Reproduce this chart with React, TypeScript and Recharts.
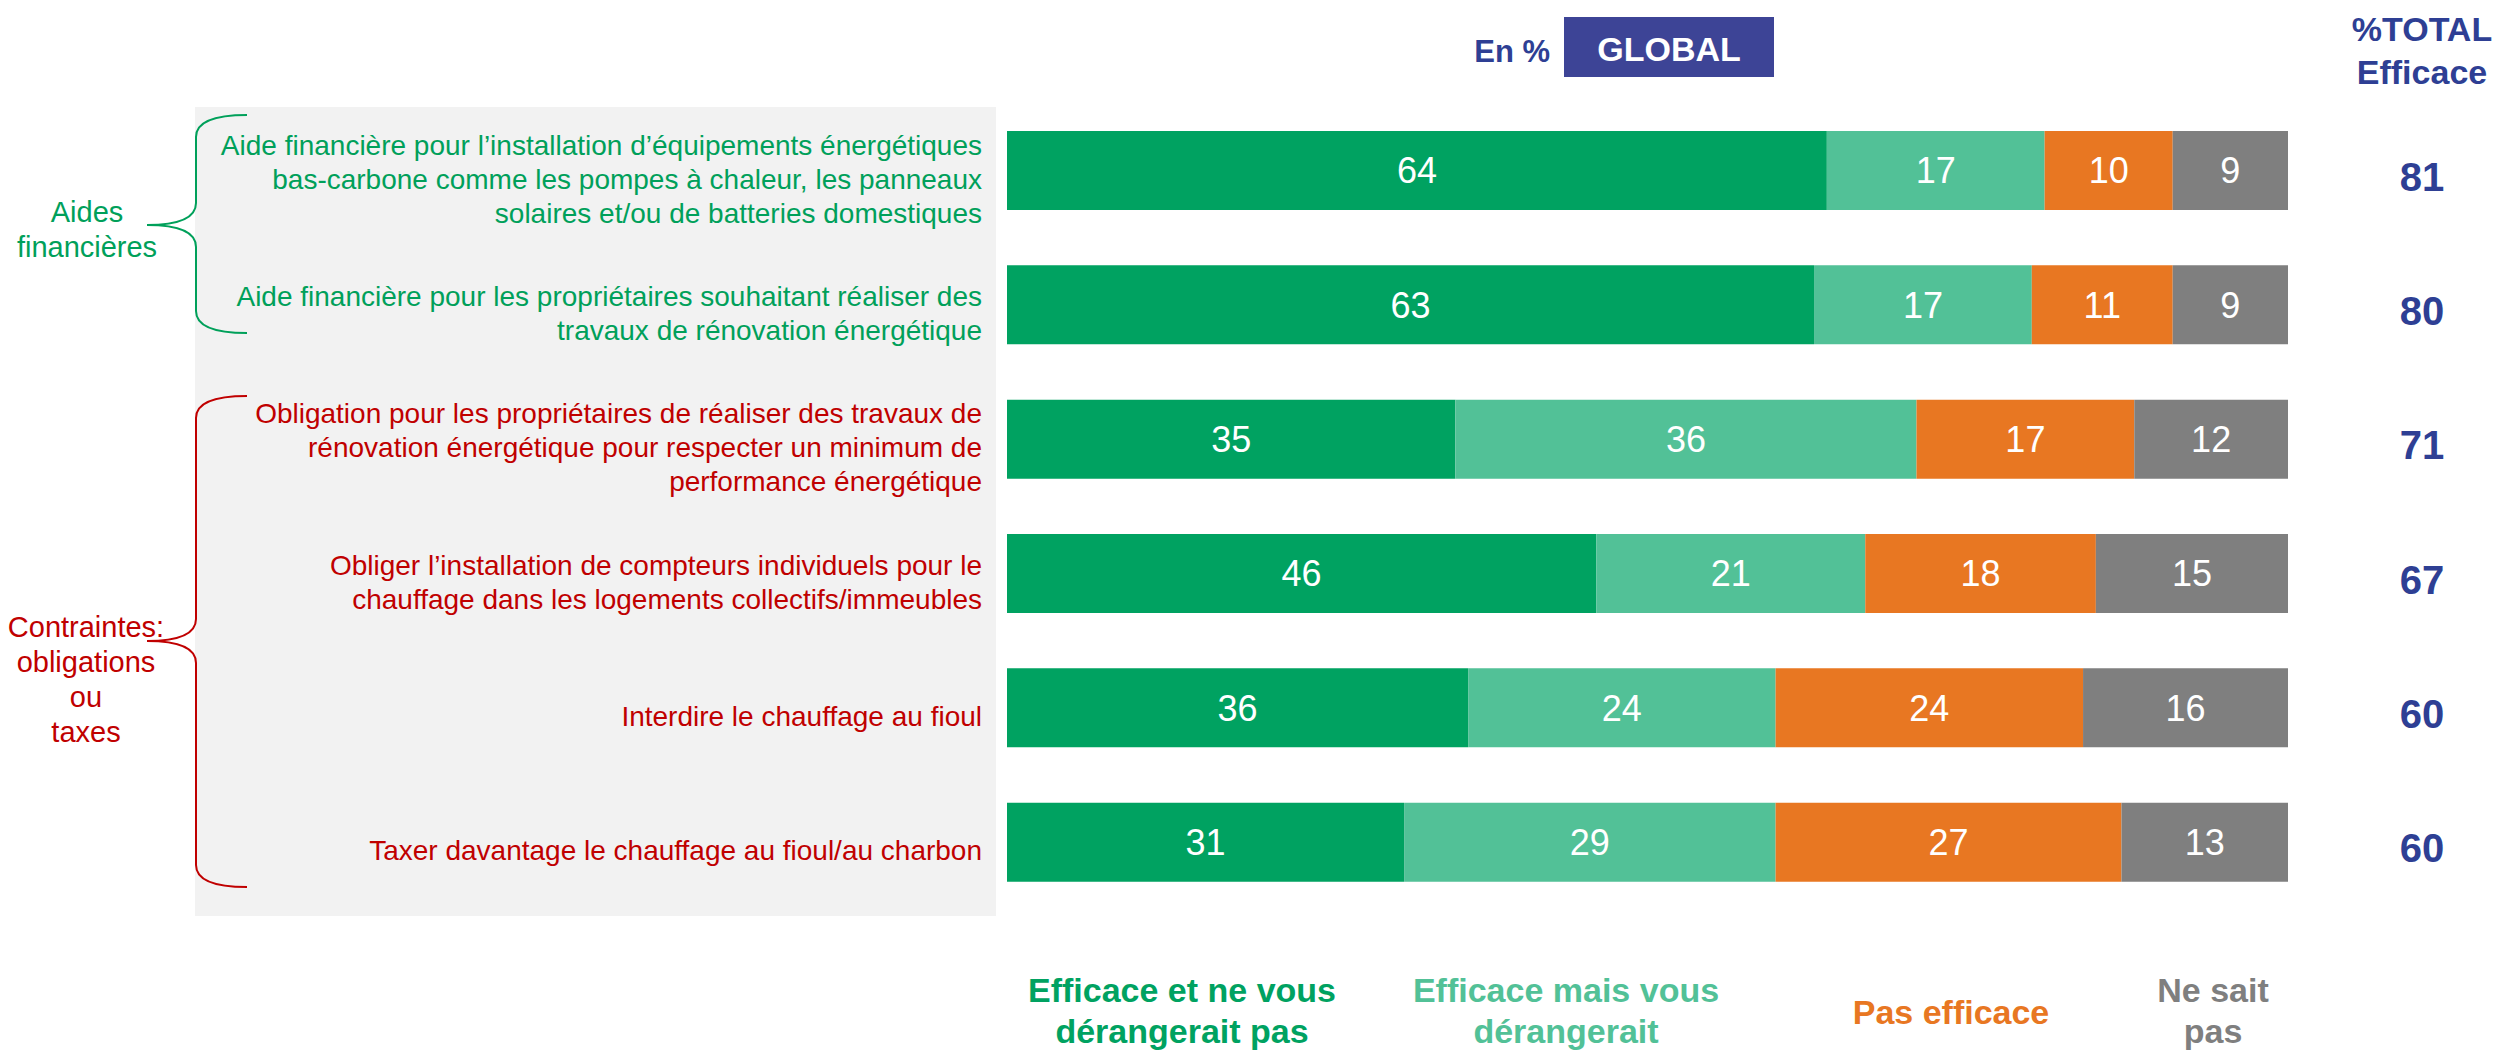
import { BarChart, Bar, XAxis, YAxis, LabelList } from "recharts";

const FONT = "'Liberation Sans', Arial, sans-serif";

const categories = [
  ["Aide financière pour l’installation d’équipements énergétiques", "bas-carbone comme les pompes à chaleur, les panneaux", "solaires et/ou de batteries domestiques"],
  ["Aide financière pour les propriétaires souhaitant réaliser des", "travaux de rénovation énergétique"],
  ["Obligation pour les propriétaires de réaliser des travaux de", "rénovation énergétique pour respecter un minimum de", "performance énergétique"],
  ["Obliger l’installation de compteurs individuels pour le", "chauffage dans les logements collectifs/immeubles"],
  ["Interdire le chauffage au fioul"],
  ["Taxer davantage le chauffage au fioul/au charbon"],
];
const rowGroup = ["aides", "aides", "contraintes", "contraintes", "contraintes", "contraintes"];

const effNoBother = [64, 63, 35, 46, 36, 31];
const effBother = [17, 17, 36, 21, 24, 29];
const notEff = [10, 11, 17, 18, 24, 27];
const dontKnow = [9, 9, 12, 15, 16, 13];

const seriesNames = ["Efficace et ne vous dérangerait pas", "Efficace mais vous dérangerait", "Pas efficace", "Ne sait pas"];
const legendLines = [["Efficace et ne vous", "dérangerait pas"], ["Efficace mais vous", "dérangerait"], ["Pas efficace"], ["Ne sait", "pas"]];
const colors = ["#00A261", "#52C197", "#E87722", "#7F7F7F"];
const legendCenters = [1182, 1566, 1951, 2213];

const groupColor: Record<string, string> = { aides: "#00A05A", contraintes: "#C00000" };
const NAVY = "#2E3F94";

const data = categories.map((lines, i) => ({
  name: String(i),
  a: effNoBother[i],
  b: effBother[i],
  c: notEff[i],
  d: dontKnow[i],
  total: effNoBother[i] + effBother[i],
}));

function CategoryTick(props: any) {
  const { x, y, payload } = props;
  const i = Number(payload.value);
  const lines = categories[i];
  const lh = 34;
  const start = y + 9 - ((lines.length - 1) * lh) / 2;
  return (
    <text x={x} textAnchor="end" fill={groupColor[rowGroup[i]]} fontFamily={FONT} fontSize={28}>
      {lines.map((l, k) => (
        <tspan key={k} x={x} y={start + k * lh} dominantBaseline="central">
          {l}
        </tspan>
      ))}
    </text>
  );
}

function TotalLabel(props: any) {
  const { y, height, value } = props;
  return (
    <text x={2422} y={Number(y) + Number(height) / 2 + 6} textAnchor="middle" dominantBaseline="central" fill={NAVY} fontFamily={FONT} fontWeight={700} fontSize={40}>
      {value}
    </text>
  );
}

function LegendBlock() {
  return (
    <div style={{ position: "absolute", left: 0, top: 970, width: 2506, height: 90 }}>
      {legendLines.map((lines, i) => (
        <div
          key={seriesNames[i]}
          style={{
            position: "absolute",
            left: legendCenters[i] - 200,
            width: 400,
            top: lines.length === 1 ? 22 : 0,
            textAlign: "center",
            color: colors[i],
            fontFamily: FONT,
            fontWeight: 700,
            fontSize: 34,
            lineHeight: "41px",
          }}
        >
          {lines.map((l) => (
            <div key={l}>{l}</div>
          ))}
        </div>
      ))}
    </div>
  );
}

function brace(x0: number, tipX: number, top: number, mid: number, bottom: number, pointX: number) {
  const r = 22;
  return `M ${tipX} ${top} Q ${x0} ${top} ${x0} ${top + r} L ${x0} ${mid - r} Q ${x0} ${mid} ${pointX} ${mid} Q ${x0} ${mid} ${x0} ${mid + r} L ${x0} ${bottom - r} Q ${x0} ${bottom} ${tipX} ${bottom}`;
}

export default function App() {
  return (
    <div style={{ position: "absolute", left: 0, top: 0, width: 2506, height: 1050, background: "#fff", overflow: "hidden" }}>
      <svg width={2506} height={1050} style={{ position: "absolute", left: 0, top: 0 }}>
        <rect x={195} y={107} width={801} height={809} fill="#F2F2F2" />
        <path d={brace(196, 247, 115, 225, 333, 147)} fill="none" stroke="#00A05A" strokeWidth={2} />
        <path d={brace(196, 247, 396, 641, 887, 147)} fill="none" stroke="#C00000" strokeWidth={2} />
        <text textAnchor="middle" fill="#00A05A" fontFamily={FONT} fontSize={29}>
          <tspan x={87} y={222}>Aides</tspan>
          <tspan x={87} y={257}>financières</tspan>
        </text>
        <text textAnchor="middle" fill="#C00000" fontFamily={FONT} fontSize={29}>
          <tspan x={86} y={637}>Contraintes:</tspan>
          <tspan x={86} y={672}>obligations</tspan>
          <tspan x={86} y={707}>ou</tspan>
          <tspan x={86} y={742}>taxes</tspan>
        </text>
        <text x={1550} y={62} textAnchor="end" fill={NAVY} fontFamily={FONT} fontWeight={700} fontSize={31}>
          En %
        </text>
        <rect x={1564} y={17} width={210} height={60} fill="#3D4496" />
        <text x={1669} y={61} textAnchor="middle" fill="#fff" fontFamily={FONT} fontWeight={700} fontSize={34}>
          GLOBAL
        </text>
        <text textAnchor="middle" fill={NAVY} fontFamily={FONT} fontWeight={700} fontSize={34}>
          <tspan x={2422} y={41}>%TOTAL</tspan>
          <tspan x={2422} y={84}>Efficace</tspan>
        </text>
      </svg>
      <div style={{ position: "absolute", left: 0, top: 0 }}>
        <BarChart width={2506} height={1050} data={data} layout="vertical" margin={{ top: 103, right: 218, bottom: 141, left: 0 }} barCategoryGap={0}>
          <XAxis type="number" domain={[0, 100]} hide />
          <YAxis type="category" dataKey="name" width={1007} axisLine={false} tickLine={false} tickSize={0} tickMargin={25} tick={<CategoryTick />} interval={0} />
          {(["a", "b", "c", "d"] as const).map((k, i) => (
            <Bar key={k} dataKey={k} name={seriesNames[i]} stackId="s" fill={colors[i]} barSize={79} isAnimationActive={false}>
              <LabelList dataKey={k} position="center" fill="#fff" fontFamily={FONT} fontSize={36} />
              {k === "d" ? <LabelList dataKey="total" content={<TotalLabel />} /> : null}
            </Bar>
          ))}
        </BarChart>
      </div>
      <LegendBlock />
    </div>
  );
}
